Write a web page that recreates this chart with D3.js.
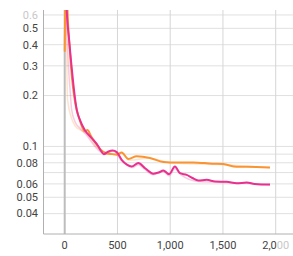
<!DOCTYPE html>
<html>
<head>
<meta charset="utf-8">
<script src="https://cdn.jsdelivr.net/npm/d3@7"></script>
<style>
	body { margin: 0; background: #fff; }
	text { font-family: Roboto, "Noto Sans", sans-serif; font-size: 11px; fill: #444; }
</style>
</head>
<body>
<div id="chart"></div>
<script>
// smoothed runs (step, value)
const orangeSteps = [0, 12, 30, 50, 70, 100, 140, 190, 215, 250, 300, 335, 398, 450, 493, 540, 603, 682, 808, 935, 998, 1219, 1400, 1503, 1630, 1725, 1946]
const orangeValues = [0.364, 1.2, 0.56, 0.36, 0.25, 0.18, 0.145, 0.123, 0.125, 0.115, 0.103, 0.0964, 0.0911, 0.09, 0.0892, 0.0921, 0.0843, 0.0873, 0.0854, 0.0808, 0.0804, 0.0804, 0.079, 0.0786, 0.0757, 0.0757, 0.075]

const pinkSteps = [0, 20, 40, 60, 80, 100, 115, 145, 190, 255, 320, 340, 370, 410, 455, 493, 540, 590, 635, 698, 762, 840, 890, 935, 989, 1045, 1093, 1156, 1210, 1266, 1346, 1425, 1536, 1630, 1725, 1800, 1946]
const pinkValues = [1.6, 0.62, 0.44, 0.32, 0.24, 0.188, 0.164, 0.143, 0.125, 0.112, 0.1, 0.095, 0.09, 0.093, 0.0945, 0.0925, 0.0833, 0.078, 0.076, 0.0797, 0.0743, 0.069, 0.07, 0.0721, 0.0685, 0.076, 0.0694, 0.0678, 0.065, 0.0628, 0.0634, 0.062, 0.0617, 0.0605, 0.0611, 0.06, 0.0594]

// raw (faint) runs
const orangeRawSteps = [0, 10, 20, 27, 60, 100, 150, 200, 300, 400, 540, 610, 800, 1000, 1500, 1946]
const orangeRawValues = [0.364, 0.6, 0.3, 0.19, 0.15, 0.132, 0.125, 0.12, 0.1, 0.09, 0.091, 0.083, 0.085, 0.08, 0.078, 0.0748]
const pinkRawSteps = [0, 20, 35, 50, 66, 98, 145, 200, 260, 320, 380, 460, 540, 640, 700, 760, 840, 935, 990, 1045, 1100, 1266, 1425, 1725, 1946]
const pinkRawValues = [1.6, 0.5, 0.3, 0.22, 0.165, 0.14, 0.128, 0.118, 0.105, 0.095, 0.09, 0.094, 0.082, 0.075, 0.078, 0.073, 0.068, 0.071, 0.067, 0.074, 0.068, 0.062, 0.0615, 0.0605, 0.059]

const xTicks = [0, 500, 1000, 1500, 2000]
const yGrid = [0.04, 0.05, 0.06, 0.07, 0.08, 0.09, 0.1, 0.2, 0.3, 0.4, 0.5, 0.6]
const yLabels = [0.04, 0.05, 0.06, 0.08, 0.1, 0.2, 0.3, 0.4, 0.5, 0.6]

const width = 293, height = 256
const plotLeft = 43.5, plotRight = 293, plotTop = 10, plotBottom = 234

const x = d3.scaleLinear().domain([-201, 2164]).range([plotLeft, plotRight])
const y = d3.scaleLog().domain([0.0303, 0.642]).range([plotBottom, plotTop])

const svg = d3.select("#chart").append("svg").attr("width", width).attr("height", height)

svg.append("clipPath").attr("id", "plot")
	.append("rect").attr("x", plotLeft).attr("y", plotTop).attr("width", plotRight - plotLeft).attr("height", plotBottom - plotTop)

// grid
svg.selectAll(".hgrid")
	.data(yGrid)
	.enter()
	.append("line")
	.attr("x1", plotLeft).attr("x2", plotRight)
	.attr("y1", d => y(d)).attr("y2", d => y(d))
	.attr("stroke", "#e0e0e0")
	.attr("stroke-width", 1)

svg.selectAll(".vgrid")
	.data(xTicks.filter(d => d !== 0))
	.enter()
	.append("line")
	.attr("x1", d => x(d)).attr("x2", d => x(d))
	.attr("y1", plotTop).attr("y2", plotBottom)
	.attr("stroke", "#d6d6d6")
	.attr("stroke-width", 1)

// zero line
svg.append("line")
	.attr("x1", x(0)).attr("x2", x(0))
	.attr("y1", plotTop).attr("y2", plotBottom)
	.attr("stroke", "#bdbdbd")
	.attr("stroke-width", 2)

// axis lines
svg.append("line").attr("x1", plotLeft).attr("x2", plotLeft).attr("y1", plotTop).attr("y2", plotBottom)
	.attr("stroke", "#b0b0b0").attr("stroke-width", 1)
svg.append("line").attr("x1", plotLeft).attr("x2", plotRight).attr("y1", plotBottom).attr("y2", plotBottom)
	.attr("stroke", "#b0b0b0").attr("stroke-width", 1)

const line = d3.line().x(d => x(d[0])).y(d => y(d[1])).curve(d3.curveMonotoneX)

const series = [
	{ steps: orangeRawSteps, values: orangeRawValues, color: "#fa9433", width: 1.5, opacity: 0.25 },
	{ steps: pinkRawSteps, values: pinkRawValues, color: "#e8308e", width: 1.5, opacity: 0.25 },
	{ steps: orangeSteps, values: orangeValues, color: "#fa9433", width: 2, opacity: 1 },
	{ steps: pinkSteps, values: pinkValues, color: "#e8308e", width: 2, opacity: 1 },
]

const plot = svg.append("g").attr("clip-path", "url(#plot)")

plot.selectAll("path")
	.data(series)
	.enter()
	.append("path")
	.attr("d", s => line(d3.zip(s.steps, s.values)))
	.attr("fill", "none")
	.attr("stroke", s => s.color)
	.attr("stroke-width", s => s.width)
	.attr("stroke-opacity", s => s.opacity)
	.attr("stroke-linejoin", "round")

// y labels
svg.selectAll(".ylab")
	.data(yLabels)
	.enter()
	.append("text")
	.attr("x", 38)
	.attr("y", d => y(d))
	.attr("dy", ".35em")
	.attr("text-anchor", "end")
	.style("fill", d => d === 0.6 ? "#c8c8c8" : null)
	.text(d => d)

// x labels
const fmt = d3.format(",")
svg.selectAll(".xlab")
	.data(xTicks)
	.enter()
	.append("text")
	.attr("x", d => x(d))
	.attr("y", 249)
	.attr("text-anchor", "middle")
	.each(function(d) {
		const t = d3.select(this)
		const s = fmt(d)
		if (d === 2000) {
			t.append("tspan").text(s.slice(0, 3))
			t.append("tspan").style("fill", "#c8c8c8").text(s.slice(3))
		} else {
			t.text(s)
		}
	})
</script>
</body>
</html>
